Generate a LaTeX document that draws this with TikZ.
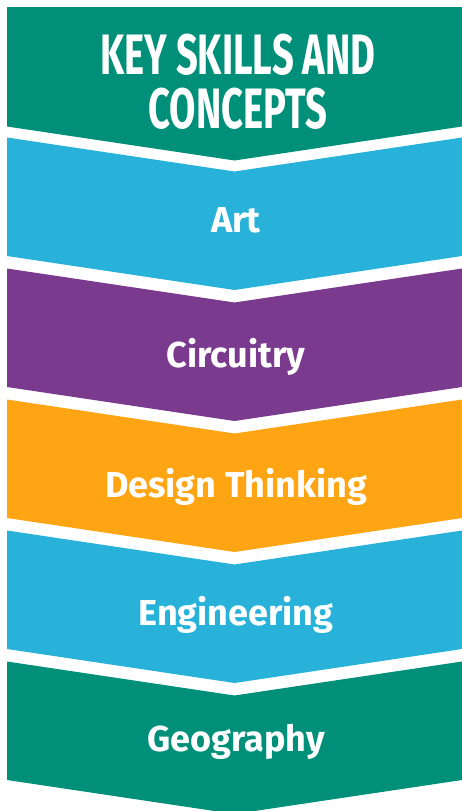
\documentclass[tikz,border=0pt]{standalone}
\usepackage{fontspec}
\setmainfont{Fira Sans}
\newfontfamily\headfont[FakeStretch=0.67]{Fira Sans}
\usepackage{tikz}

\definecolor{keygreen}{HTML}{00907A}
\definecolor{keyblue}{HTML}{29B2D9}
\definecolor{keypurple}{HTML}{7A3B8F}
\definecolor{keyorange}{HTML}{FFA412}

\tikzset{
  label/.style={text=white,font=\bfseries\fontsize{36}{36}\selectfont,anchor=base},
  headlabel/.style={text=white,font=\headfont\bfseries\fontsize{57}{57}\selectfont,anchor=base}
}

\begin{document}
\begin{tikzpicture}[x=1pt,y=-1pt]
\useasboundingbox (0,0) rectangle (462,811);
\fill[keygreen] (7,7) -- (462,7) -- (462,126.5) -- (234.5,160.5) -- (7,126.5) -- cycle;
\fill[keyblue] (7,137.5) -- (234.5,171.5) -- (462,137.5) -- (462,256) -- (234.5,290) -- (7,256) -- cycle;
\fill[keypurple] (7,268.5) -- (234.5,302.5) -- (462,268.5) -- (462,387) -- (234.5,421) -- (7,387) -- cycle;
\fill[keyorange] (7,399.5) -- (234.5,433.5) -- (462,399.5) -- (462,518) -- (234.5,552) -- (7,518) -- cycle;
\fill[keyblue] (7,530.5) -- (234.5,564.5) -- (462,530.5) -- (462,649) -- (234.5,683) -- (7,649) -- cycle;
\fill[keygreen] (7,661.5) -- (234.5,695.5) -- (462,661.5) -- (462,780) -- (234.5,814) -- (7,780) -- cycle;
\node[headlabel] (Head1) at (238,74){KEY SKILLS AND};
\node[headlabel] (Head2) at (238,128){CONCEPTS};
\node[label] (Art) at (236,232){Art};
\node[label] (Circ) at (236,367){Circuitry};
\node[label] (Design) at (236,497){Design Thinking};
\node[label] (Eng) at (236,625){Engineering};
\node[label] (Geo) at (236,751){Geography};
\end{tikzpicture}
\end{document}
